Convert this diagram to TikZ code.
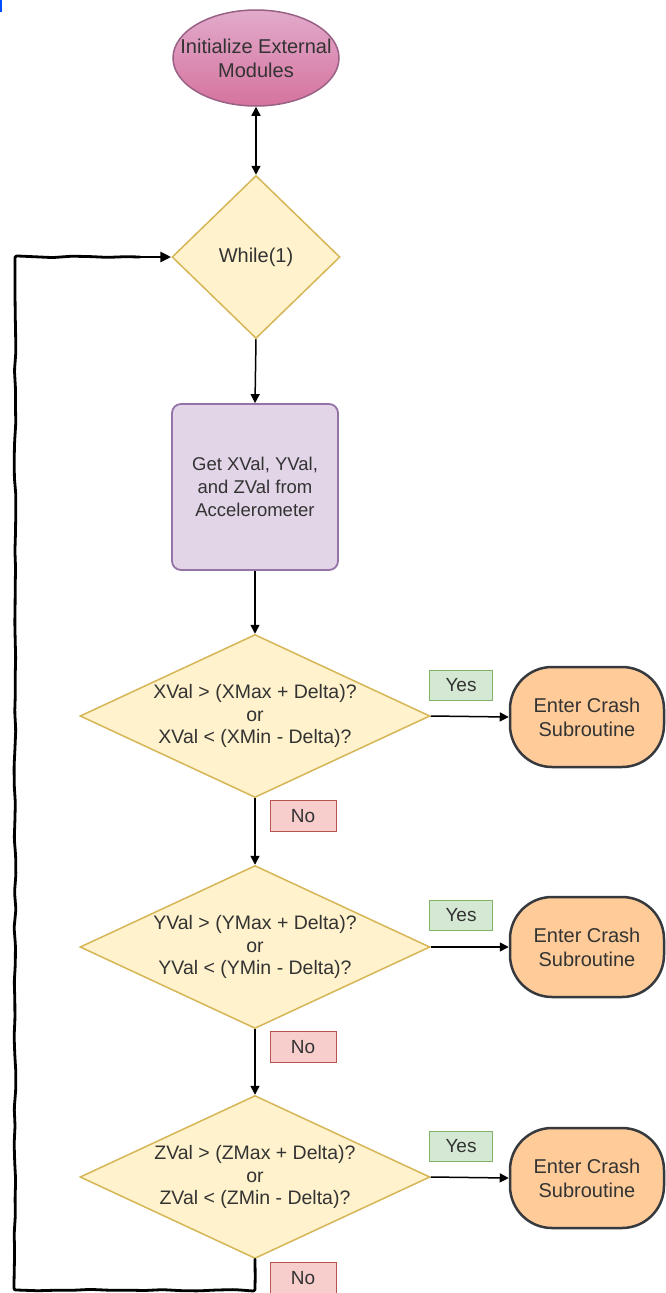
\documentclass[tikz,border=0pt]{standalone}
\usepackage{fontspec}
\setmainfont{Liberation Sans}
\usetikzlibrary{shapes.geometric,arrows.meta,decorations.pathmorphing}
\definecolor{yfill}{HTML}{FFF2CC}
\definecolor{ydraw}{HTML}{D6B656}
\definecolor{pfill}{HTML}{E1D5E7}
\definecolor{pdraw}{HTML}{9673A6}
\definecolor{gfill}{HTML}{D5E8D4}
\definecolor{gdraw}{HTML}{82B366}
\definecolor{rfill}{HTML}{F8CECC}
\definecolor{rdraw}{HTML}{B85450}
\definecolor{ofill}{HTML}{FFCC99}
\definecolor{odraw}{HTML}{36393D}
\definecolor{mtop}{HTML}{E2AACB}
\definecolor{mbot}{HTML}{D5739D}
\definecolor{mdraw}{HTML}{996185}
\definecolor{tgray}{HTML}{333333}
\begin{document}
\begin{tikzpicture}[x=1pt,y=-1pt,
  txt/.style={text=tgray, align=center},
  dec/.style={diamond, aspect=2.15, draw=ydraw, fill=yfill, line width=1.5pt, inner sep=0pt,
    minimum width=350pt, minimum height=163pt, txt, font=\fontsize{19.5}{22.7}\selectfont},
  crash/.style={rectangle, rounded corners=42pt, draw=odraw, fill=ofill, line width=2.5pt,
    minimum width=154pt, minimum height=100pt, txt, font=\fontsize{20}{24}\selectfont},
  yeslbl/.style={rectangle, draw=gdraw, fill=gfill, line width=1pt, minimum width=63pt,
    minimum height=30pt, inner sep=0pt, txt, font=\fontsize{19}{21}\selectfont},
  nolbl/.style={rectangle, draw=rdraw, fill=rfill, line width=1pt, minimum width=66pt,
    minimum height=31pt, inner sep=0pt, txt, font=\fontsize{19}{21}\selectfont},
  conn/.style={draw=black, line width=1.5pt, -{Triangle[length=9pt,width=9pt]}},
  loopline/.style={draw=black, line width=2.8pt, line cap=round, line join=round}
]
\useasboundingbox (0,0) rectangle (665,1293);
\fill[white] (0,0) rectangle (665,1293);
\draw[blue!70!cyan, line width=2pt] (1,0) -- (1,12);

% start ellipse
\node[ellipse, draw=mdraw, line width=1.5pt, top color=mtop, bottom color=mbot,
  minimum width=166pt, minimum height=96pt, inner sep=0pt] (init) at (256,58) {};
\node[txt, font=\fontsize{20}{24}\selectfont, inner sep=0pt] (inittxt) at (init.center)
  {Initialize External\\Modules};

% while
\node[diamond, draw=ydraw, fill=yfill, line width=1.5pt, inner sep=0pt,
  minimum width=168pt, minimum height=163pt, txt, font=\fontsize{20}{24}\selectfont]
  (w) at (256,257) {While(1)};

% process box
\node[rectangle, rounded corners=9pt, draw=pdraw, fill=pfill, line width=1.8pt,
  minimum width=166pt, minimum height=166pt, txt, font=\fontsize{18.5}{23}\selectfont]
  (get) at (255,487) {Get XVal, YVal,\\and ZVal from\\Accelerometer};

% decisions
\node[dec] (d1) at (255,716) {XVal > (XMax + Delta)?\\or\\XVal < (XMin - Delta)?};
\node[dec] (d2) at (255,947) {YVal > (YMax + Delta)?\\or\\YVal < (YMin - Delta)?};
\node[dec] (d3) at (255,1177) {ZVal > (ZMax + Delta)?\\or\\ZVal < (ZMin - Delta)?};

% crash nodes
\node[crash] (c1) at (587,717) {Enter Crash\\Subroutine};
\node[crash] (c2) at (587,947) {Enter Crash\\Subroutine};
\node[crash] (c3) at (587,1178) {Enter Crash\\Subroutine};

% labels
\node[yeslbl] (y1) at (461,685) {Yes};
\node[yeslbl] (y2) at (461,915) {Yes};
\node[yeslbl] (y3) at (461,1146) {Yes};
\node[nolbl] (n1) at (303,816) {No};
\node[nolbl] (n2) at (303,1047) {No};
\node[nolbl] (n3) at (303,1278) {No};

% connectors
\draw[draw=black, line width=1.5pt, {Triangle[length=9pt,width=9pt]}-{Triangle[length=9pt,width=9pt]}]
  (init.south) -- (w.north);
\draw[conn] (w.south) -- (get.north);
\draw[conn] (get.south) -- (d1.north);
\draw[conn] (d1.south) -- (d2.north);
\draw[conn] (d2.south) -- (d3.north);
\draw[conn] (d1.east) -- (c1.west);
\draw[conn] (d2.east) -- (c2.west);
\draw[conn] (d3.east) -- (c3.west);

% hand-drawn loop back
\coordinate (lb) at (255,1290);
\coordinate (ll) at (15,1290);
\coordinate (lt) at (15,257);
\coordinate (la) at (140,257);
\pgfmathsetseed{7}
\draw[loopline, decorate, decoration={random steps, segment length=18pt, amplitude=0.9pt}, rounded corners=2pt]
  (d3.south) -- (lb) -- (ll) -- (lt) -- (la);
\draw[loopline, -{Triangle[length=11pt,width=10pt]}] (la) -- (w.west);
\end{tikzpicture}
\end{document}
